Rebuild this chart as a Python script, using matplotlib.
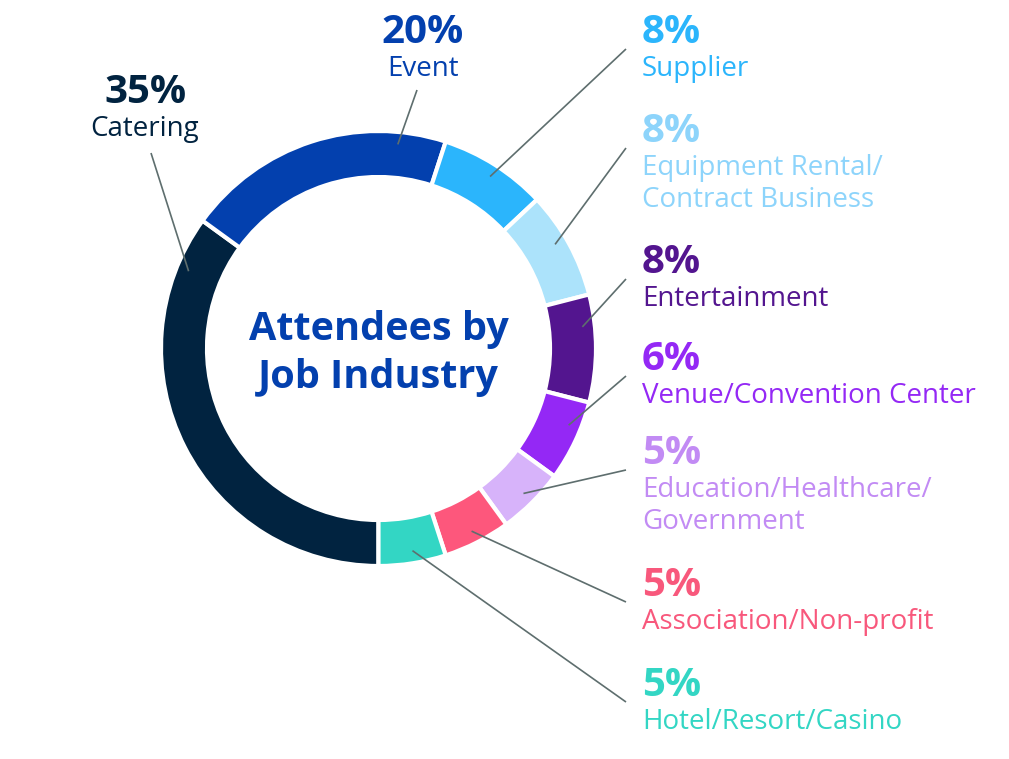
import numpy as np
import matplotlib.pyplot as plt
import matplotlib

matplotlib.rcParams['font.family'] = ['Open Sans', 'DejaVu Sans']

# data
labels = ['Catering', 'Event', 'Supplier', 'Equipment Rental/\nContract Business',
          'Entertainment', 'Venue/Convention Center',
          'Education/Healthcare/\nGovernment', 'Association/Non-profit',
          'Hotel/Resort/Casino']
shares = [35, 20, 8, 8, 8, 6, 5, 5, 5]
pct_text = ['35%', '20%', '8%', '8%', '8%', '6%', '5%', '5%', '5%']

wedge_colors = ['#012340', '#0340AE', '#2BB5FC', '#ACE3FB', '#53158F',
                '#9428F5', '#D7B3FA', '#FD577C', '#33D6C4']
text_colors = ['#012340', '#0340AE', '#2BB5FC', '#8DD4FB', '#53158F',
               '#9428F5', '#C28BF4', '#F8587C', '#33D6C4']

# layout (pixel coords, y down)
W, H = 1009, 759
cx, cy = 378.5, 348.5
r_out, ring = 217.5, 46
r_line = 205
anchor_frac = [0.89, 0.825, 0.52, 0.44, 0.29, 0.35, 0.5, 0.5, 0.47]
# pct centre y for each label; x and alignment
pct_y = [89, 29, 29, 128, 259, 356, 450, 582, 682]
txt_x = [145, 423, 642, 642, 642, 642, 642, 642, 642]
txt_ha = ['center', 'center'] + ['left'] * 7
line_end = [(151, 153), (417, 90)] + [(626, y + 20) for y in pct_y[2:]]

fig = plt.figure(figsize=(W / 100, H / 100), dpi=100)
ax = fig.add_axes([0, 0, 1, 1])

# y axis is inverted below, so counterclock=True runs clockwise on screen
wedges, _ = ax.pie(shares, colors=wedge_colors, startangle=90, counterclock=True,
                   radius=r_out, center=(cx, cy),
                   wedgeprops=dict(width=ring, edgecolor='white', linewidth=3))

ax.set_xlim(0, W)
ax.set_ylim(H, 0)
ax.set_aspect('equal')
ax.axis('off')

for i, w in enumerate(wedges):
    ang = np.deg2rad(w.theta1 + anchor_frac[i] * (w.theta2 - w.theta1))
    x0 = cx + r_line * np.cos(ang)
    y0 = cy + r_line * np.sin(ang)
    x1, y1 = line_end[i]
    ax.plot([x0, x1], [y0, y1], color='#5E6E6E', lw=1.2, solid_capstyle='butt')

    ax.text(txt_x[i], pct_y[i] + 14, pct_text[i], ha=txt_ha[i], va='baseline',
            fontsize=29, fontweight='bold', color=text_colors[i])
    for j, line in enumerate(labels[i].split('\n')):
        ax.text(txt_x[i], pct_y[i] + 47 + 32 * j, line, ha=txt_ha[i], va='baseline',
                fontsize=20, color=text_colors[i])

ax.text(cx, 340, 'Attendees by', ha='center', va='baseline',
        fontsize=28.5, fontweight='bold', color='#0340AE')
ax.text(cx, 388, 'Job Industry', ha='center', va='baseline',
        fontsize=28.5, fontweight='bold', color='#0340AE')

plt.savefig('out.png', dpi=100)
